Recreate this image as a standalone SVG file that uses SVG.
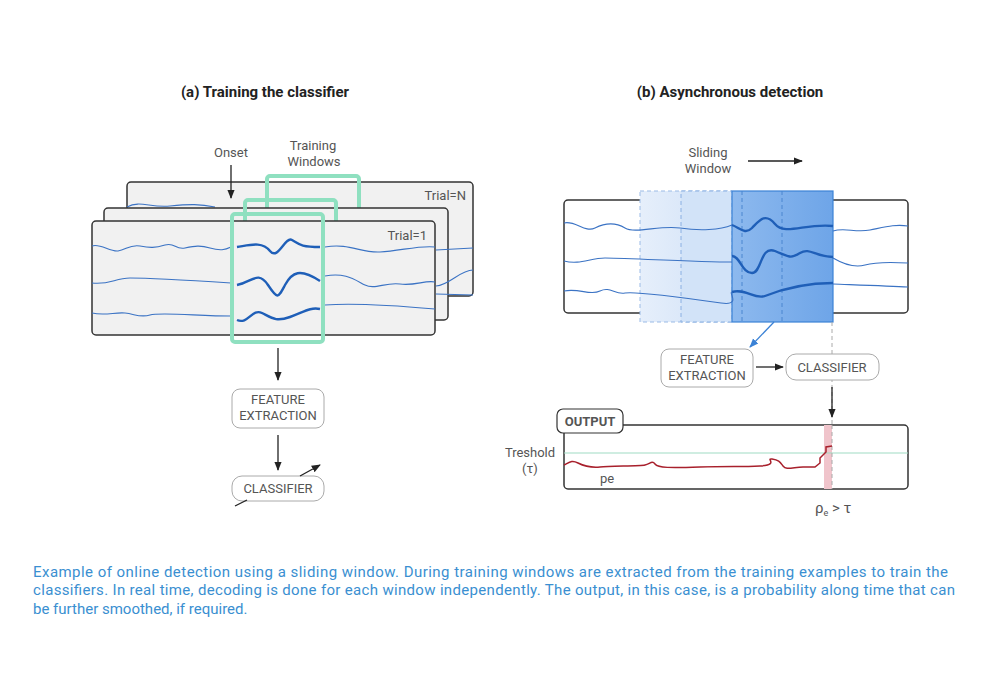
<svg xmlns="http://www.w3.org/2000/svg" width="1000" height="690" viewBox="0 0 1000 690">
<defs>
<marker id="ah" viewBox="0 0 10 10" refX="9" refY="5" markerWidth="7" markerHeight="7" orient="auto"><path d="M0,1 L10,5 L0,9 z" fill="#222"/></marker>
<marker id="ahb" viewBox="0 0 10 10" refX="9" refY="5" markerWidth="7" markerHeight="7" orient="auto"><path d="M0,1 L10,5 L0,9 z" fill="#3b82d6"/></marker>
<linearGradient id="g1" x1="0" x2="1"><stop offset="0" stop-color="#e6effb"/><stop offset="1" stop-color="#cfe0f7"/></linearGradient>
<linearGradient id="g2" x1="0" x2="1"><stop offset="0" stop-color="#8db9ee"/><stop offset="1" stop-color="#6ea5e8"/></linearGradient>
</defs>
<style>
text{font-family:Roboto,"Liberation Sans",sans-serif;fill:#555}
.t{font-weight:bold;font-size:15px;fill:#222}
.lbl{font-size:13px;text-anchor:middle}
.trial{fill:#f1f1f1;stroke:#333;stroke-width:1.5}
.sig{fill:none;stroke:#3b73c4;stroke-width:1.1}
.sigb{fill:none;stroke:#1f5fb8;stroke-width:2.4}
.gw{fill:none;stroke:#8fe0c0;stroke-width:4}
.node rect{fill:#fff;stroke:#aaa;stroke-width:1}
.node text{font-size:13px;text-anchor:middle;fill:#555}
.ar{stroke:#222;stroke-width:1.3;fill:none;marker-end:url(#ah)}
.cap{font-size:15px;fill:#3a8fd1}
</style>
<rect width="1000" height="690" fill="#fff"/>
<text class="t" x="265" y="97" text-anchor="middle">(a) Training the classifier</text>
<text class="t" x="730" y="97" text-anchor="middle">(b) Asynchronous detection</text>

<g id="trialN">
<rect class="trial" x="127" y="182" width="346" height="114" rx="4"/>
<line x1="267" y1="182" x2="267" y2="208" stroke="#333"/>
<text x="466" y="200" font-size="13" text-anchor="end">Trial=N</text>
<path class="sig" d="M127,207 C140,200 150,208 170,206 S200,204 215,207"/>
</g>
<rect class="gw" x="267" y="176" width="92" height="60" rx="3"/>
<g id="trial2">
<rect class="trial" x="104" y="208" width="344" height="112" rx="4"/>
<line x1="245" y1="208" x2="245" y2="222" stroke="#333"/>
<path class="sig" d="M436,250 L473,248 M436,286 C450,285 460,270 473,270 M436,294 L473,295"/>
</g>
<rect class="gw" x="245" y="200" width="91" height="40" rx="3"/>
<g id="trial1">
<rect class="trial" x="92" y="221" width="343" height="114" rx="4"/>
<line x1="231" y1="221" x2="231" y2="335" stroke="#333"/>
<text x="427" y="240" font-size="13" text-anchor="end">Trial=1</text>
<path class="sig" d="M92,246 C100,243 110,252 118,251 S130,244 140,246 S155,248 165,245 S175,250 185,248 S200,245 210,248 S225,250 231,247"/>
<path class="sig" d="M92,283 C110,285 115,278 130,278 S200,281 231,283"/>
<path class="sig" d="M92,313 C105,316 115,312 125,313 S140,318 150,315 S200,316 231,316"/>
<path class="sigb" d="M237,247 C250,245 262,241 270,251 S285,236 292,240 S300,247 320,247"/>
<path class="sigb" d="M237,285 C252,282 258,270 268,285 S278,298 285,285 S300,268 320,281"/>
<path class="sigb" d="M237,320 C248,325 252,308 262,313 S276,322 290,317 S310,307 320,309"/>
<path class="sig" d="M325,247 C350,243 360,253 380,252 S420,245 435,247"/>
<path class="sig" d="M325,276 C345,272 355,280 365,285 S385,282 400,284 S425,280 435,282"/>
<path class="sig" d="M325,305 C350,303 390,305 435,309"/>
</g>
<rect class="gw" x="232" y="214" width="91" height="128" rx="3"/>
<text class="lbl" x="231" y="157">Onset</text>
<text class="lbl" x="313" y="150">Training</text>
<text class="lbl" x="314" y="166">Windows</text>

<g id="fe1" class="node"><rect x="232" y="389" width="92" height="39" rx="8"/><text x="278" y="404">FEATURE</text><text x="278" y="420">EXTRACTION</text></g>
<g id="cl1" class="node"><rect x="232" y="476" width="92" height="25" rx="10"/><text x="278" y="493">CLASSIFIER</text></g>

<g id="right">
<rect x="564" y="200" width="344" height="113" rx="4" fill="#fff" stroke="#333" stroke-width="1.5"/>
<rect x="640" y="191" width="92" height="131" fill="url(#g1)" stroke="#9bbbe6" stroke-dasharray="4,3"/>
<rect x="681" y="191" width="51" height="131" fill="#d2e3f8" stroke="#8ab0e2" stroke-dasharray="4,3"/>
<rect x="732" y="191" width="101" height="131" fill="url(#g2)" stroke="#3b82d6" stroke-width="1.2"/>
<line x1="742" y1="191" x2="742" y2="322" stroke="#4a86d0" stroke-dasharray="4,3"/>
<line x1="782" y1="191" x2="782" y2="322" stroke="#4a86d0" stroke-dasharray="4,3"/>
<path class="sig" d="M564,223 C575,220 585,233 595,228 S615,222 625,228 S660,225 680,228 S720,230 732,225"/>
<path class="sigb" d="M732,225 C740,228 745,235 752,228 S765,212 775,224 S805,223 833,226"/>
<path class="sig" d="M833,231 C845,227 855,233 870,230 S895,224 908,226"/>
<path class="sig" d="M564,261 C580,265 590,258 605,258 S700,262 732,262"/>
<path class="sigb" d="M732,256 C740,256 742,273 752,273 S760,245 775,251 S790,259 800,253 S815,257 833,257"/>
<path class="sig" d="M833,258 C845,265 855,268 865,265 S890,262 908,263"/>
<path class="sig" d="M564,291 C580,288 590,296 600,291 S615,295 625,293 S700,300 721,303 S728,292 732,292"/>
<path class="sigb" d="M732,292 C745,288 755,300 765,296 S800,283 833,283"/>
<path class="sig" d="M833,284 C860,285 890,286 908,287"/>
<line x1="832" y1="322" x2="832" y2="489" stroke="#aaa" stroke-dasharray="4,3"/>
<rect x="564" y="425" width="344" height="64" rx="4" fill="#fff" stroke="#333" stroke-width="1.5"/>
<rect x="824" y="425" width="8" height="64" fill="#f0c4cb"/>
<line x1="564" y1="453" x2="908" y2="453" stroke="#9fdcc4" stroke-width="1.2"/>
<line x1="832" y1="425" x2="832" y2="489" stroke="#aaa" stroke-dasharray="4,3"/>
<path d="M564,465 C570,462 572,460 578,463 S590,468 600,467 S640,466 645,465 S652,460 655,464 S670,468 700,467 S740,467 760,466 S765,458 772,459 S780,462 783,466 S790,468 803,467 L815,467 L820,463 L820,458 L826,452 L826,447 L832,446" fill="none" stroke="#a8202c" stroke-width="1.5"/>
<rect x="557" y="409" width="66" height="24" rx="6" fill="#fff" stroke="#333" stroke-width="1.2"/>
<text x="590" y="426" text-anchor="middle" font-size="13" font-weight="bold" fill="#222">OUTPUT</text>
<text x="530" y="457" text-anchor="middle" font-size="13">Treshold</text>
<text x="530" y="473" text-anchor="middle" font-size="13">(τ)</text>
<text x="607" y="483" text-anchor="middle" font-size="13">pe</text>
<text x="815" y="513" font-size="15" font-family="'Liberation Serif',serif">ρ<tspan font-size="9" dy="3">e</tspan><tspan dy="-3"> &gt; τ</tspan></text>
<text class="lbl" x="708" y="157">Sliding</text>
<text class="lbl" x="708" y="173">Window</text>
</g>
<g id="fe2" class="node"><rect x="661" y="349" width="92" height="38" rx="8"/><text x="707" y="364">FEATURE</text><text x="707" y="380">EXTRACTION</text></g>
<g id="cl2" class="node"><rect x="786" y="354" width="93" height="26" rx="10"/><text x="832" y="372">CLASSIFIER</text></g>

<g id="connectors">
<line class="ar" x1="231" y1="165" x2="231" y2="198"/>
<line class="ar" x1="278" y1="348" x2="278" y2="380"/>
<line class="ar" x1="278" y1="435" x2="278" y2="470"/>
<line class="ar" x1="300" y1="476" x2="320" y2="465"/>
<line x1="235" y1="506" x2="247" y2="500" stroke="#222" stroke-width="1.3"/>
<line class="ar" x1="748" y1="161" x2="802" y2="161"/>
<line x1="774" y1="322" x2="750" y2="347" stroke="#3b82d6" stroke-width="1.3" marker-end="url(#ahb)"/>
<line class="ar" x1="756" y1="367" x2="783" y2="367"/>
<line class="ar" x1="832" y1="387" x2="832" y2="417"/>
</g>
<text class="cap" x="33" y="577" textLength="915" lengthAdjust="spacing">Example of online detection using a sliding window. During training windows are extracted from the training examples to train the</text>
<text class="cap" x="33" y="595" textLength="922" lengthAdjust="spacing">classifiers. In real time, decoding is done for each window independently. The output, in this case, is a probability along time that can</text>
<text class="cap" x="33" y="614">be further smoothed, if required.</text>
</svg>
